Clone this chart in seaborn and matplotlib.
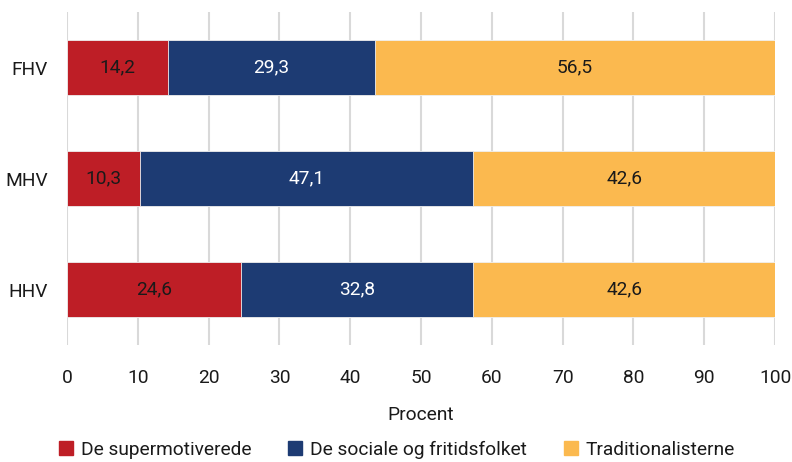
import numpy as np
import pandas as pd
import matplotlib
matplotlib.use("Agg")
import matplotlib.pyplot as plt
import seaborn as sns
from matplotlib.lines import Line2D

categories = ["FHV", "MHV", "HHV"]
series_names = ["De supermotiverede", "De sociale og fritidsfolket", "Traditionalisterne"]
supermotiverede = [14.2, 10.3, 24.6]
sociale = [29.3, 47.1, 32.8]
traditionalister = [56.5, 42.6, 42.6]
x_ticks = [0, 10, 20, 30, 40, 50, 60, 70, 80, 90, 100]

colors = ["#BE1E26", "#1D3B73", "#FBB94F"]
text_colors = ["#1a1a1a", "white", "#1a1a1a"]

sns.set_theme(style="white")
plt.rcParams["font.family"] = ["Roboto", "DejaVu Sans"]

FS = 13.8

fig = plt.figure(figsize=(7.92, 4.62), dpi=100)
ax = fig.add_axes([0.0846, 0.253, 0.894, 0.721])

series = [supermotiverede, sociale, traditionalister]
cum = np.cumsum(np.array(series), axis=0)

# Draw from widest cumulative to narrowest so segments appear stacked
for i in range(len(series) - 1, -1, -1):
    df = pd.DataFrame({"cat": categories, "val": cum[i]})
    sns.barplot(data=df, x="val", y="cat", orient="h", color=colors[i],
                saturation=1, width=0.495, ax=ax, zorder=3,
                edgecolor="#f0f0f0", linewidth=0.6)

for i, vals in enumerate(series):
    starts = cum[i] - np.array(vals)
    for j, v in enumerate(vals):
        ax.text(starts[j] + v / 2, j, f"{v:.1f}".replace(".", ","),
                ha="center", va="center", color=text_colors[i], fontsize=FS, zorder=5)

ax.set_xlim(0, 100)
ax.set_ylim(2.5, -0.5)
ax.set_xticks(x_ticks)
ax.set_xticklabels([str(t) for t in x_ticks])
ax.grid(axis="x", color="#D9D9D9", linewidth=1.5, zorder=0)
ax.grid(axis="y", visible=False)
for s in ax.spines.values():
    s.set_visible(False)
ax.tick_params(axis="x", length=0, pad=17, labelsize=FS, labelcolor="#1a1a1a")
ax.tick_params(axis="y", length=0, pad=14, labelsize=FS, labelcolor="#1a1a1a")
ax.set_xlabel("Procent", fontsize=FS, color="#1a1a1a", labelpad=14)
ax.set_ylabel("")

handles = [Line2D([0], [0], marker="s", linestyle="none", markersize=9.5,
                  markerfacecolor=c, markeredgecolor=c) for c in colors]
fig.legend(handles, series_names, loc="lower center", bbox_to_anchor=(0.5, -0.03),
           ncol=3, frameon=False, fontsize=FS, handletextpad=0.3,
           columnspacing=1.85, handlelength=0.9, labelcolor="#1a1a1a")

fig.savefig("out.png", dpi=100)
